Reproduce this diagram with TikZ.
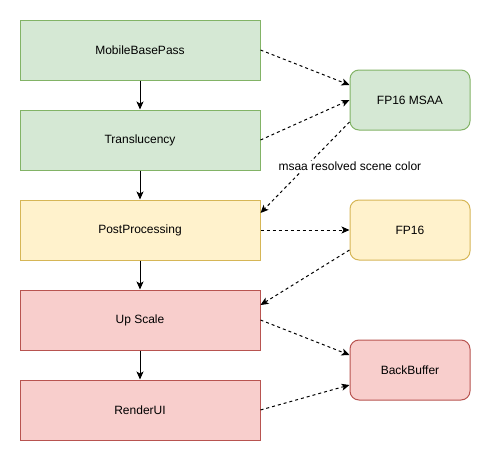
\documentclass[tikz,border=0pt]{standalone}
\usepackage{fontspec}
\setmainfont{Liberation Sans}
\usetikzlibrary{arrows.meta}
\definecolor{gfill}{HTML}{D5E8D4}
\definecolor{gline}{HTML}{82B366}
\definecolor{yfill}{HTML}{FFF2CC}
\definecolor{yline}{HTML}{D6B656}
\definecolor{rfill}{HTML}{F8CECC}
\definecolor{rline}{HTML}{B85450}

\begin{document}
\begin{tikzpicture}[x=1pt,y=-1pt,
pass/.style={%
draw,
line width=1pt,
minimum width=240pt,
minimum height=60pt,
font=\fontsize{12}{14}\selectfont
},
buf/.style={%
pass,
rounded corners=9pt,
minimum width=120pt
},
flow/.style={%
line width=1pt,
-{Stealth[length=8pt,width=7pt,inset=2pt]}
},
res/.style={%
flow,
dash pattern=on 3pt off 3pt
},
lbl/.style={%
fill=white,
inner sep=1pt,
font=\fontsize{12}{14}\selectfont
},
]
\useasboundingbox(0,0)rectangle(491,461);
%% passes
\node[pass,fill=gfill,draw=gline]at(140,50)(base){MobileBasePass};
\node[pass,fill=gfill,draw=gline]at(140,140)(trans){Translucency};
\node[pass,fill=yfill,draw=yline]at(140,230)(post){PostProcessing};
\node[pass,fill=rfill,draw=rline]at(140,320)(up){Up Scale};
\node[pass,fill=rfill,draw=rline]at(140,410)(ui){RenderUI};
%% targets
\node[buf,fill=gfill,draw=gline]at(410,100)(msaa){FP16 MSAA};
\node[buf,fill=yfill,draw=yline]at(410,230)(fp){FP16};
\node[buf,fill=rfill,draw=rline]at(410,370)(back){BackBuffer};
%% order
\draw[flow](base)--(trans);
\draw[flow](trans)--(post);
\draw[flow](post)--(up);
\draw[flow](up)--(ui);
%% resources
\draw[res](base.east)--([yshift=15pt]msaa.west);
\draw[res](trans.east)--(msaa.west);
\draw[res]([yshift=-22pt]msaa.west)--([yshift=17pt]post.east)
node[lbl,pos=0.49,xshift=44pt]{msaa resolved scene color};
\draw[res](post.east)--(fp.west);
\draw[res]([yshift=-20pt]fp.west)--([yshift=15pt]up.east);
\draw[res](up.east)--([yshift=15pt]back.west);
\draw[res](ui.east)--([yshift=-15pt]back.west);
\end{tikzpicture}
\end{document}
